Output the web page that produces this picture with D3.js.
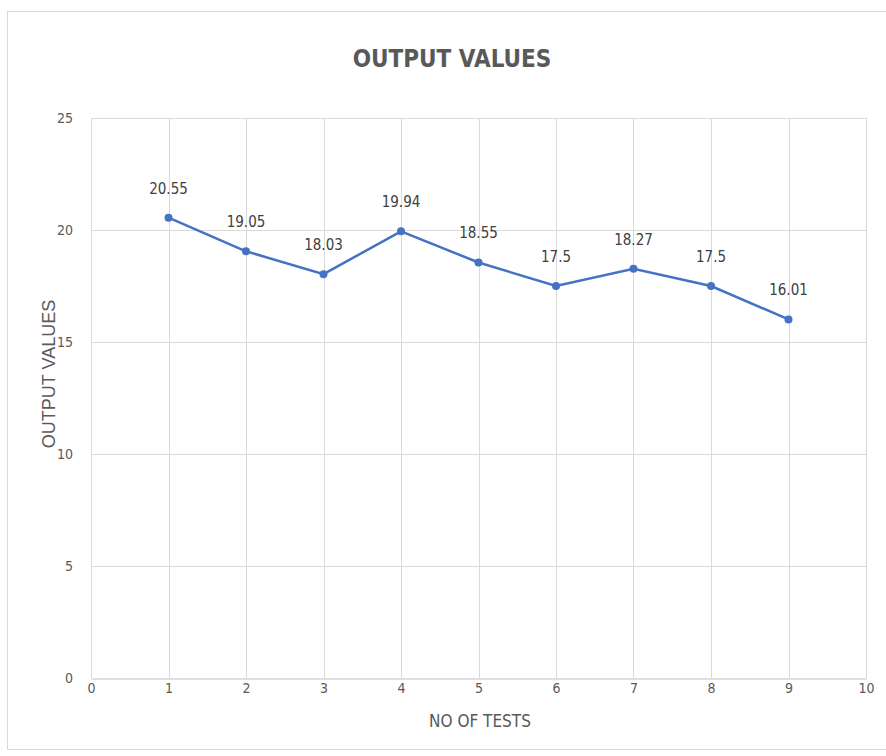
<!DOCTYPE html>
<html><head><meta charset="utf-8">
<script src="https://cdn.jsdelivr.net/npm/d3@7"></script>
<style>body{margin:0;background:#fff;} svg{display:block;}</style>
</head><body>
<svg id="c" width="886" height="756"></svg>
<script>
const tests = [1,2,3,4,5,6,7,8,9];
const outputValues = [20.55,19.05,18.03,19.94,18.55,17.5,18.27,17.5,16.01];
const valueLabels = ["20.55","19.05","18.03","19.94","18.55","17.5","18.27","17.5","16.01"];
const xTicks = [0,1,2,3,4,5,6,7,8,9,10];
const yTicks = [0,5,10,15,20,25];

const svg = d3.select("#c");
const narrow = "'Liberation Sans Narrow','DejaVu Sans Condensed','Arial Narrow',sans-serif";
const grey = "#595959";

svg.append("rect").attr("x",7.5).attr("y",11.5).attr("width",890).attr("height",738)
  .attr("fill","#fff").attr("stroke","#d9d9d9");

const x = d3.scaleLinear().domain([0,10]).range([91,866]);
const y = d3.scaleLinear().domain([0,25]).range([678,118]);

// grid
svg.append("g").selectAll("line").data(yTicks.filter(d=>d>0)).join("line")
  .attr("x1",x(0)).attr("x2",x(10)).attr("y1",d=>y(d)+0.5).attr("y2",d=>y(d)+0.5)
  .attr("stroke","#d9d9d9");
svg.append("g").selectAll("line").data(xTicks).join("line")
  .attr("x1",d=>Math.round(x(d))+0.5).attr("x2",d=>Math.round(x(d))+0.5).attr("y1",y(25)).attr("y2",y(0))
  .attr("stroke","#d9d9d9");

// axes
const xAxis = d3.axisBottom(x).tickValues(xTicks).tickSize(0).tickPadding(5);
const gx = svg.append("g").attr("transform",`translate(0,${y(0)+0.5})`).call(xAxis);
gx.select(".domain").attr("stroke","#bfbfbf");
gx.selectAll("text").attr("fill",grey).attr("font-size",14).attr("font-family",narrow);

const yAxis = d3.axisLeft(y).tickValues(yTicks).tickSize(0).tickPadding(18);
const gy = svg.append("g").attr("transform",`translate(${x(0)},0)`).call(yAxis);
gy.select(".domain").remove();
gy.selectAll("text").attr("fill",grey).attr("font-size",14).attr("font-family",narrow);

// titles
svg.append("text").attr("x",452).attr("y",67).attr("text-anchor","middle")
  .attr("font-family",narrow).attr("font-size",24).attr("font-weight","bold").attr("fill",grey)
  .text("OUTPUT  VALUES");
svg.append("text").attr("x",480).attr("y",727).attr("text-anchor","middle")
  .attr("font-family",narrow).attr("font-size",17).attr("fill",grey).text("NO OF TESTS");
svg.append("text").attr("transform","translate(55,374) rotate(-90)").attr("text-anchor","middle")
  .attr("font-family","'Liberation Sans',Arial,sans-serif").attr("font-size",18).attr("fill",grey).text("OUTPUT VALUES");

// line
const pts = tests.map((t,i)=>({t, v: outputValues[i], l: valueLabels[i]}));
svg.append("path").datum(pts)
  .attr("d", d3.line().x(d=>x(d.t)).y(d=>y(d.v)))
  .attr("fill","none").attr("stroke","#4472c4").attr("stroke-width",2.5);
svg.append("g").selectAll("circle").data(pts).join("circle")
  .attr("cx",d=>x(d.t)).attr("cy",d=>y(d.v)).attr("r",4).attr("fill","#4472c4");
svg.append("g").selectAll("text").data(pts).join("text")
  .attr("x",d=>x(d.t)).attr("y",d=>y(d.v)-24).attr("text-anchor","middle")
  .attr("font-family",narrow).attr("font-size",15).attr("fill","#404040").text(d=>d.l);
</script>
</body></html>
